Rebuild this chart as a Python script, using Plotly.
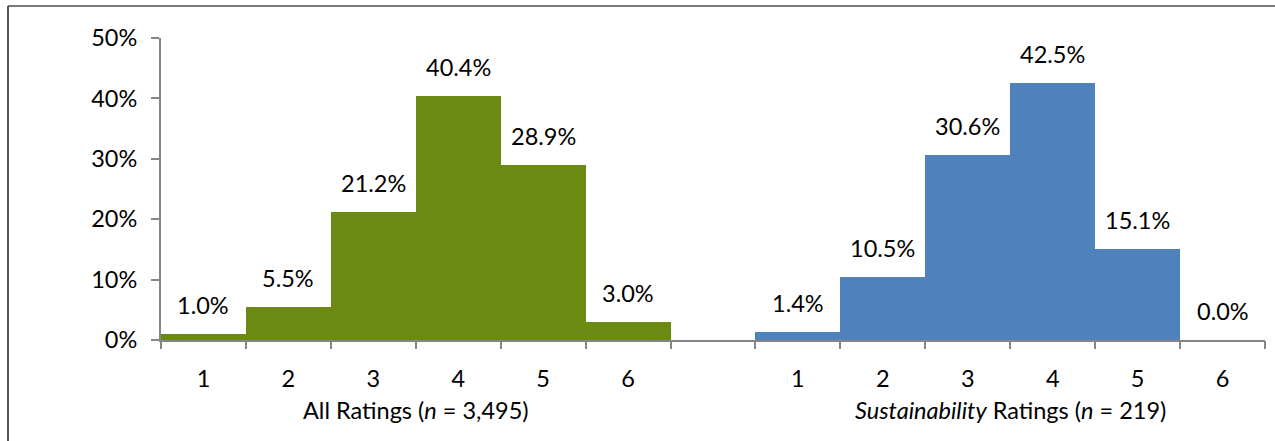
import plotly.graph_objects as go

ratings = ["1", "2", "3", "4", "5", "6"]
all_vals = [1.0, 5.5, 21.2, 40.4, 28.9, 3.0]
sus_vals = [1.4, 10.5, 30.6, 42.5, 15.1, 0.0]
group_titles = ["All Ratings (<i>n</i> = 3,495)", "<i>Sustainability</i> Ratings (<i>n</i> = 219)"]
y_ticks = [0, 10, 20, 30, 40, 50]

GREEN = "#6A8A12"
BLUE = "#4F81BD"
AXIS = "#868686"
FONT = "Lato"
FS = 23.5

n = len(ratings)
x_all = [i + 1 for i in range(n)]
x_sus = [i + n + 2 for i in range(n)]
n_slots = 2 * n + 1

fig = go.Figure()
fig.add_trace(go.Bar(x=x_all, y=all_vals, width=1, marker=dict(color=GREEN, line=dict(width=0)),
                     showlegend=False, hoverinfo="skip"))
fig.add_trace(go.Bar(x=x_sus, y=sus_vals, width=1, marker=dict(color=BLUE, line=dict(width=0)),
                     showlegend=False, hoverinfo="skip"))
# helper trace for boundary ticks axis
fig.add_trace(go.Scatter(x=[0.5, n_slots + 0.5], y=[None, None], xaxis="x2", showlegend=False,
                         hoverinfo="skip"))

annotations = []
for xs, vals in ((x_all, all_vals), (x_sus, sus_vals)):
    for x, v in zip(xs, vals):
        annotations.append(dict(x=x, y=v, xref="x", yref="y", text=f"{v:.1f}%", showarrow=False,
                                yanchor="bottom", yshift=13,
                                font=dict(family=FONT, size=FS, color="#000000")))
for xs, title in ((x_all, group_titles[0]), (x_sus, group_titles[1])):
    annotations.append(dict(x=(xs[0] + xs[-1]) / 2, y=-0.232, xref="x", yref="paper", text=title,
                            showarrow=False, yanchor="middle",
                            font=dict(family=FONT, size=FS, color="#000000")))

fig.update_layout(
    width=1275, height=441,
    margin=dict(l=161, r=10, t=38, b=101),
    paper_bgcolor="white", plot_bgcolor="white",
    font=dict(family=FONT, size=FS, color="#000000"),
    bargap=0,
    xaxis=dict(range=[0.5, n_slots + 0.5], tickvals=x_all + x_sus, ticktext=ratings + ratings,
               ticks="outside", ticklen=8, tickcolor="rgba(0,0,0,0)", ticklabelstandoff=9,
               showgrid=False, zeroline=False, showline=True, linecolor=AXIS, linewidth=2,
               tickfont=dict(family=FONT, size=FS)),
    xaxis2=dict(range=[0.5, n_slots + 0.5], overlaying="x", side="bottom", anchor="y",
                tickvals=[i + 0.5 for i in range(n_slots + 1)], showticklabels=False,
                ticks="outside", ticklen=8, tickwidth=2, tickcolor=AXIS,
                showgrid=False, zeroline=False, showline=False),
    yaxis=dict(range=[0, 50], tickvals=y_ticks, ticktext=[f"{t}%" for t in y_ticks],
               ticks="outside", ticklen=8, tickwidth=2, tickcolor=AXIS, ticklabelstandoff=9,
               showgrid=False, zeroline=False, showline=True, linecolor=AXIS, linewidth=2,
               tickfont=dict(family=FONT, size=FS)),
    annotations=annotations,
    shapes=[
        dict(type="line", xref="paper", yref="paper", x0=(8 - 161) / 1104, x1=1.2,
             y0=(340 - 6) / 302, y1=(340 - 6) / 302, line=dict(color="#7a7a7a", width=2)),
        dict(type="line", xref="paper", yref="paper", x0=(8 - 161) / 1104, x1=(8 - 161) / 1104,
             y0=(340 - 6) / 302, y1=-0.6, line=dict(color="#555555", width=2)),
    ],
)

fig.write_html("out.html")
